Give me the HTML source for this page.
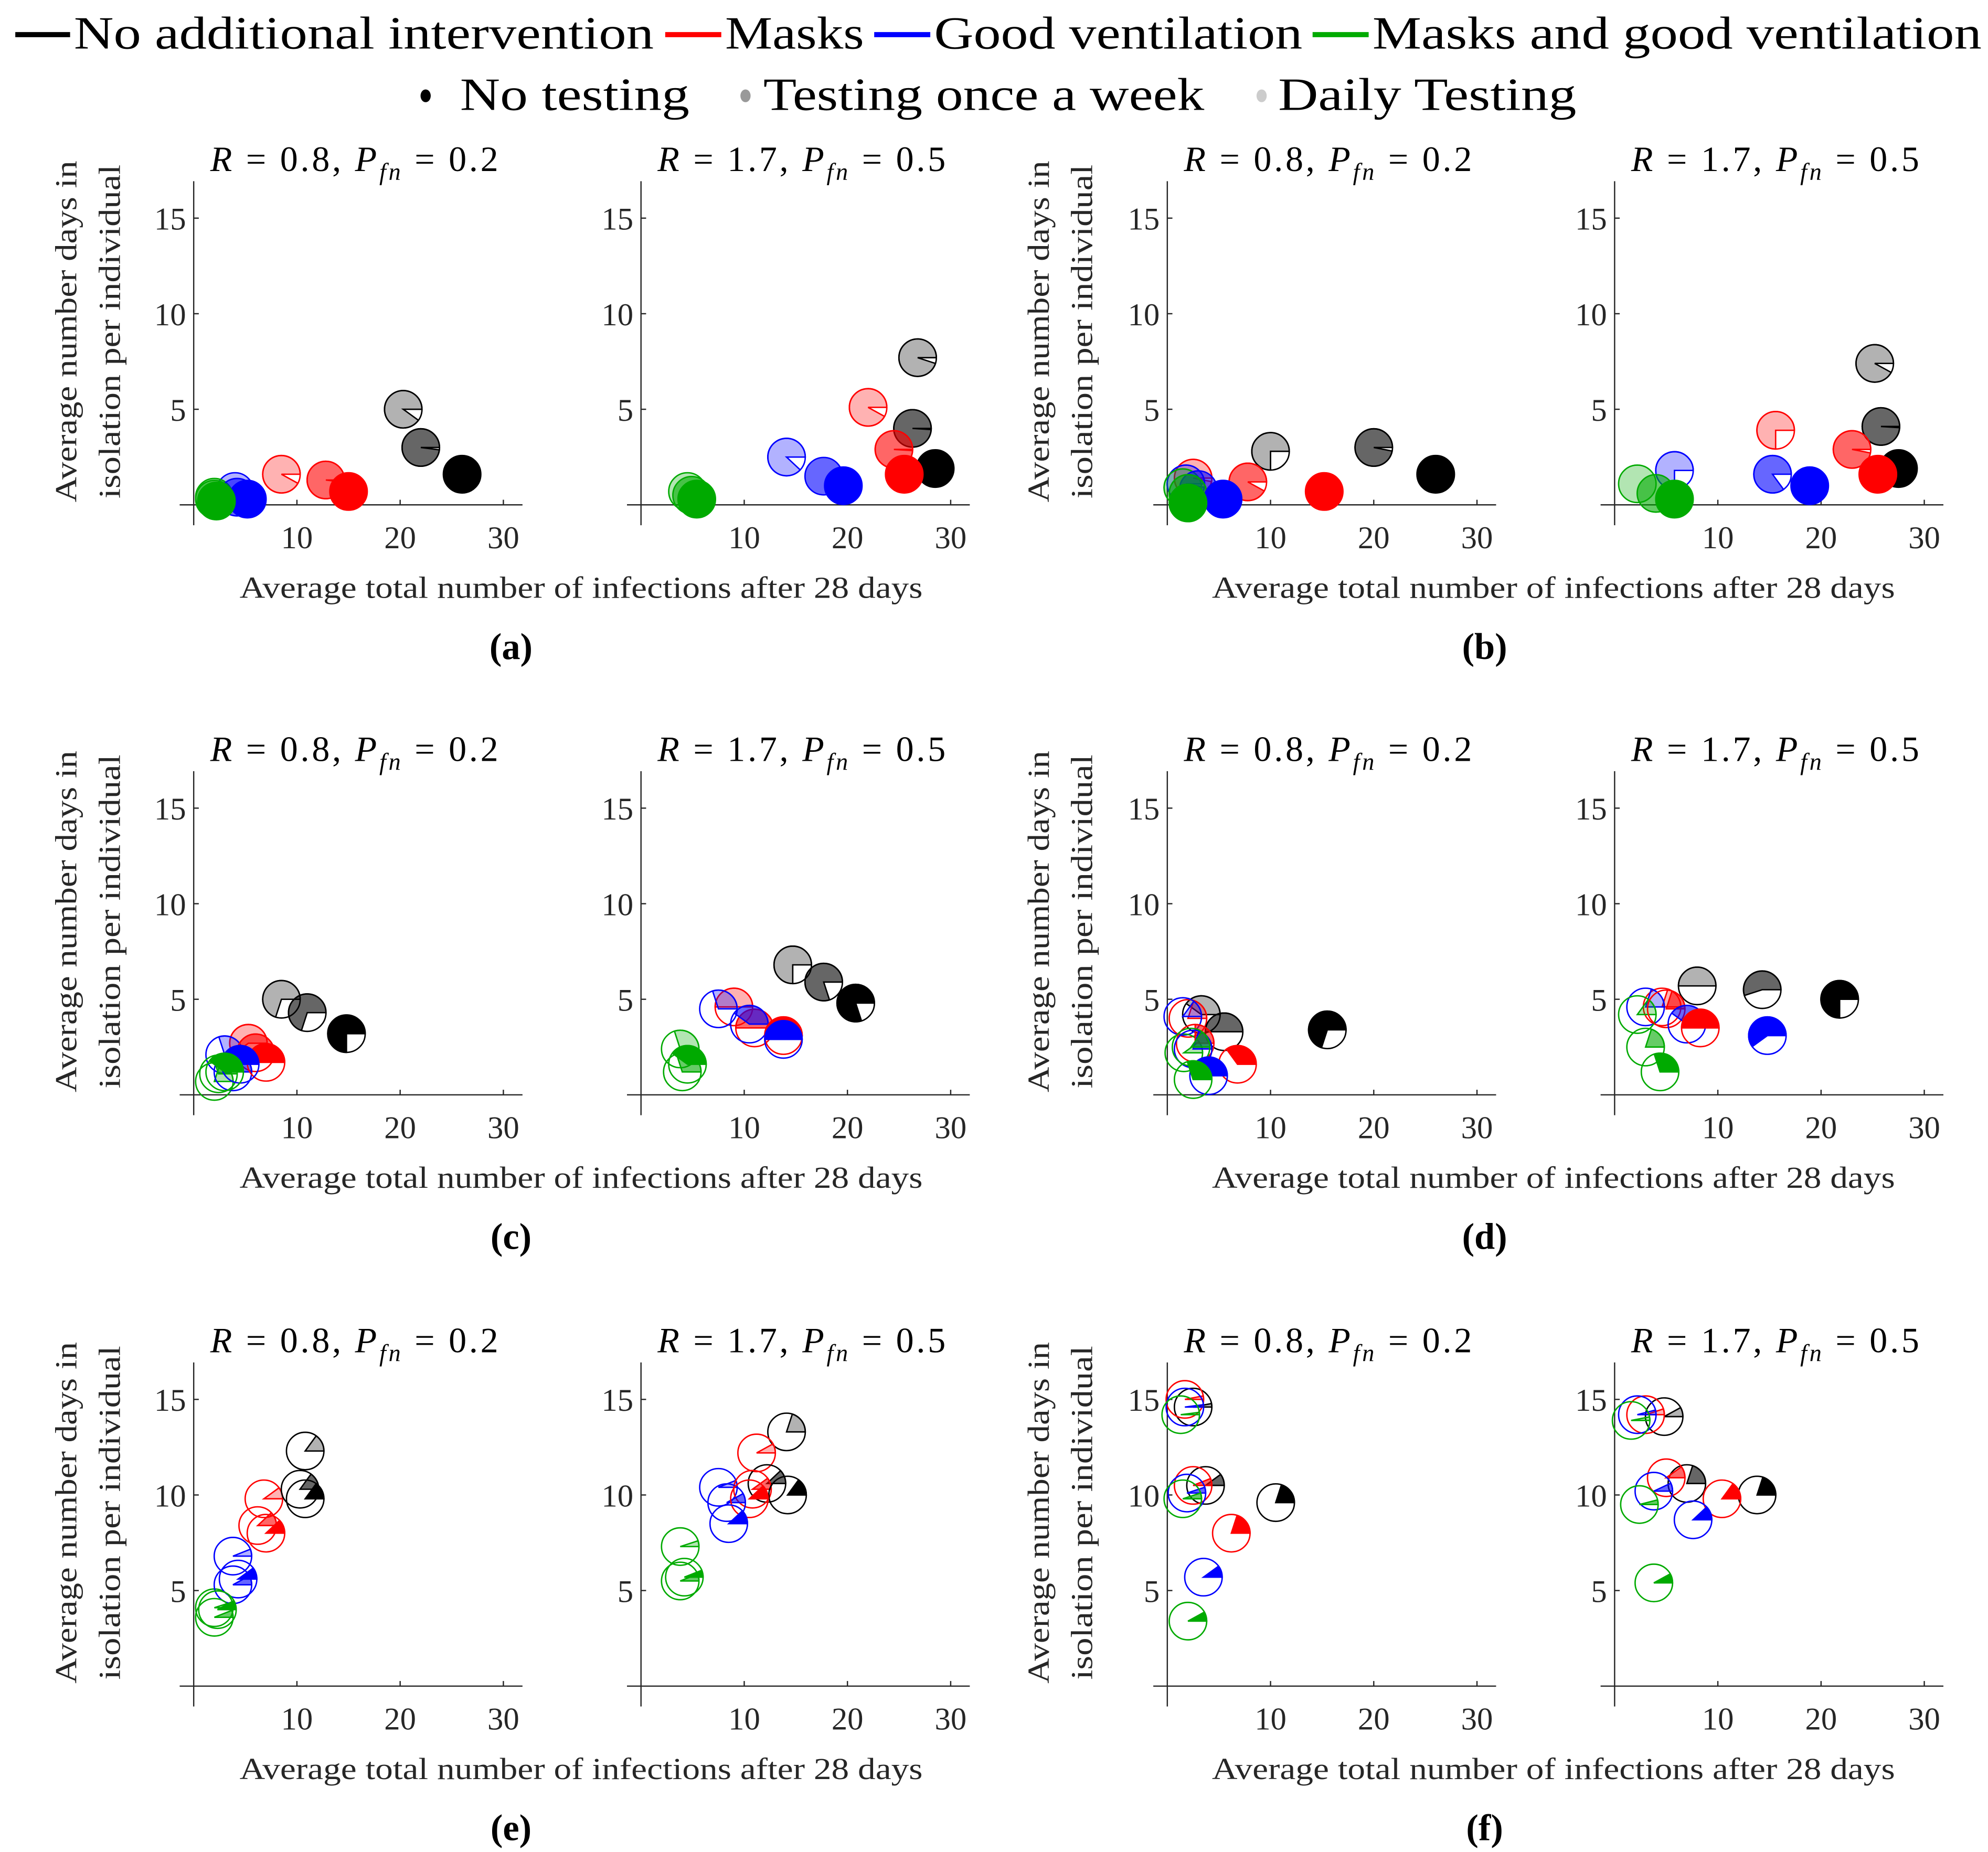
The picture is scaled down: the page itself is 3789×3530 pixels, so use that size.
<!DOCTYPE html>
<html><head><meta charset="utf-8"><style>
html,body{margin:0;padding:0;background:#fff}
svg{display:block}
text,tspan{font-family:"Liberation Serif",serif}
</style></head><body>
<svg id="fig" xmlns="http://www.w3.org/2000/svg" width="3789" height="3530" viewBox="0 0 1560 1453" font-family="Liberation Serif, serif">
<g>
 <line x1="12" y1="27" x2="55" y2="27" stroke="#000" stroke-width="4"/>
 <text x="58" y="38" font-size="36" textLength="455" lengthAdjust="spacingAndGlyphs">No additional intervention</text>
 <line x1="522" y1="27" x2="566" y2="27" stroke="#f00" stroke-width="4"/>
 <text x="569" y="38" font-size="36" textLength="109" lengthAdjust="spacingAndGlyphs">Masks</text>
 <line x1="686" y1="27" x2="730" y2="27" stroke="#00f" stroke-width="4"/>
 <text x="733" y="38" font-size="36" textLength="289" lengthAdjust="spacingAndGlyphs">Good ventilation</text>
 <line x1="1030" y1="27" x2="1074" y2="27" stroke="#00aa00" stroke-width="4"/>
 <text x="1077" y="38" font-size="36" textLength="478" lengthAdjust="spacingAndGlyphs">Masks and good ventilation</text>
 <ellipse cx="334" cy="75" rx="4" ry="5" fill="#000"/>
 <text x="361" y="86" font-size="36" textLength="180" lengthAdjust="spacingAndGlyphs">No testing</text>
 <ellipse cx="585" cy="75" rx="4" ry="5" fill="#999"/>
 <text x="599" y="86" font-size="36" textLength="346" lengthAdjust="spacingAndGlyphs">Testing once a week</text>
 <ellipse cx="990" cy="75" rx="4" ry="5" fill="#ccc"/>
 <text x="1003" y="86" font-size="36" textLength="234" lengthAdjust="spacingAndGlyphs">Daily Testing</text>
</g>
<g id="panels"></g>
</svg>
<script>
// order per panel: black(none,weekly,daily), red(...), blue(...), green(...)
const panelX = [
 [26,22,20.3, 15,12.8,8.5, 5.2,4.2,4, 2.2,2,2],
 [28.5,26.3,26.8, 25.5,24.5,22, 19.6,17.7,14.1, 5.4,4.9,4.5],
 [26,20,10, 15.2,7.8,2.5, 5.4,3,1.8, 2,2,1.5],
 [27.5,25.8,25.2, 25.5,23,15.6, 18.9,15.3,5.8, 5.8,4,2.2],
 [14.8,11,8.5, 7,6,5.3, 4.5,3.8,3, 3,2.4,2],
 [20.8,17.7,14.7, 13.8,11,9, 13.8,10.5,7.5, 4.5,4,3.8],
 [15.5,5.5,3.3, 6.8,2.7,2, 4,2.5,1.5, 2.5,2.3,1.6],
 [21.8,14.3,8, 8.3,5,4.6, 14.8,7,3, 4.4,3,2.2],
 [10.8,10.3,10.8, 7,6.2,6.8, 4.3,3.8,3.8, 2.3,2,2],
 [14.2,12.2,14.1, 10.5,10.8,11.2, 8.5,8.3,7.5, 4.2,3.8,3.8],
 [10.5,3.7,2.5, 6.2,2.5,1.7, 3.5,1.9,1.7, 2,1.5,1.3],
 [13.8,7,4.8, 10.4,5,3, 7.6,3.8,2.2, 3.8,2.4,1.6]
];
const panelY = [
 [1.6,3,5, 0.7,1.3,1.6, 0.3,0.4,0.7, 0.2,0.3,0.4],
 [1.9,4,7.7, 1.6,2.9,5.1, 1,1.5,2.5, 0.3,0.5,0.7],
 [1.6,3,2.8, 0.7,1.2,1.4, 0.3,0.8,1.1, 0.1,0.6,0.9],
 [1.9,4.1,7.4, 1.6,2.9,3.9, 1,1.6,1.8, 0.3,0.6,1.1],
 [3.2,4.3,5, 1.7,2.2,2.7, 1.6,1.2,2.1, 1.2,1.1,0.7],
 [4.8,5.9,6.8, 3.1,3.5,4.6, 2.9,3.7,4.5, 1.6,1.2,2.4],
 [3.4,3.3,4.2, 1.6,2.7,4, 1,2.4,4.1, 0.8,2.5,2.2],
 [5,5.5,5.7, 3.5,4.5,4.6, 3.1,3.7,4.6, 1.2,2.5,4.2],
 [9.8,10.3,12.3, 8,8.4,9.8, 5.6,5.3,6.8, 4,3.6,4.1],
 [10,10.6,13.3, 9.8,10.3,12.2, 8.5,9.6,10.4, 5.7,5.5,7.3],
 [9.6,10.5,14.6, 8,10.5,15, 5.7,10.1,14.6, 3.4,9.8,14.2],
 [10,10.6,14.1, 9.8,10.9,14.2, 8.7,10.2,14.2, 5.4,9.5,13.9]
];
const panelF = [
 [1,0.98,0.9, 1,0.98,0.92, 1,1,1, 1,1,1],
 [1,0.99,0.95, 1,0.99,0.92, 1,1,0.88, 1,1,1],
 [1,0.97,0.75, 1,0.92,0.97, 1,1,0.97, 1,0.97,0.97],
 [1,0.99,0.92, 1,0.97,0.75, 1,0.85,0.75, 1,1,1],
 [0.75,0.7,0.7, 0.5,0.5,0.6, 0.4,0.4,0.3, 0.4,0.3,0.2],
 [0.8,0.8,0.75, 0.5,0.5,0.5, 0.5,0.4,0.3, 0.4,0.3,0.3],
 [0.7,0.5,0.4, 0.35,0.25,0.2, 0.35,0.2,0.15, 0.3,0.15,0.1],
 [0.75,0.55,0.5, 0.5,0.2,0.2, 0.6,0.4,0.2, 0.3,0.2,0.15],
 [0.15,0.15,0.15, 0.12,0.12,0.1, 0.1,0.08,0.06, 0.08,0.06,0.05],
 [0.15,0.12,0.2, 0.12,0.1,0.08, 0.12,0.08,0.06, 0.06,0.06,0.05],
 [0.2,0.1,0.03, 0.2,0.06,0.03, 0.1,0.05,0.02, 0.08,0.05,0.02],
 [0.2,0.2,0.08, 0.15,0.1,0.05, 0.12,0.07,0.04, 0.08,0.04,0.03]
];
const interventions = ['none','masks','ventilation','both'];
const testings = ['no-testing','weekly','daily'];
const colors = ['#000000','#ff0000','#0000ff','#00aa00'];
const alphas = [1,0.6,0.3];
const xTicks = [10,20,30];
const yTicks = [5,10,15];
const titles = [['0.8','0.2'],['1.7','0.5']];
const letters = ['(a)','(b)','(c)','(d)','(e)','(f)'];

const NS='http://www.w3.org/2000/svg';
const root=document.getElementById('panels');
const colX=[152,503,916,1267], rowY=[396,859,1323];
const SX=8.1, SY=15, R=14.7;
function mk(tag,attrs,parent){const e=document.createElementNS(NS,tag);for(const k in attrs)e.setAttribute(k,attrs[k]);if(tag==='text')e.setAttribute('font-family','Liberation Serif, serif');(parent||root).appendChild(e);return e;}

for(let r=0;r<3;r++){
 for(let c=0;c<4;c++){
  const p=r*4+c, x0=colX[c], y0=rowY[r];
  const xs=v=>x0+v*SX, ys=v=>y0-v*SY;
  const g=mk('g',{});
  
  
  const ax=mk('g',{},g);
  
  
  mk('line',{x1:x0,y1:y0-254,x2:x0,y2:y0+16,stroke:'#262626','stroke-width':1},ax);
  mk('line',{x1:x0-11,y1:y0,x2:x0+258,y2:y0,stroke:'#262626','stroke-width':1},ax);
  xTicks.forEach(t=>{
   mk('line',{x1:xs(t),y1:y0,x2:xs(t),y2:y0-4,stroke:'#262626','stroke-width':1},ax);
   const tl=mk('text',{x:xs(t),y:y0+34,'font-size':25,'text-anchor':'middle',fill:'#262626'},ax);
   
   
   tl.textContent=t;
  });
  yTicks.forEach(t=>{
   mk('line',{x1:x0,y1:ys(t),x2:x0+4,y2:ys(t),stroke:'#262626','stroke-width':1},ax);
   const tl=mk('text',{x:x0-6,y:ys(t)+9,'font-size':25,'text-anchor':'end',fill:'#262626'},ax);
   
   
   tl.textContent=t;
  });
  const tt=titles[c%2];
  const ti=mk('text',{x:x0+13,y:y0-262,'font-size':28,textLength:226,lengthAdjust:'spacing'},g);
  
  
  ti.innerHTML='<tspan font-style="italic">R</tspan> = '+tt[0]+', <tspan font-style="italic">P</tspan><tspan font-style="italic" font-size="19" dy="7">fn</tspan><tspan dy="-7"> = '+tt[1]+'</tspan>';
  for(let t=2;t>=0;t--){
   for(let i=0;i<4;i++){
    const k=i*3+t;
    const cx=xs(panelX[p][k]), cy=ys(panelY[p][k]), f=panelF[p][k];
    const m=mk('g',{},g);
    
    
    if(f>=0.999){
     mk('circle',{cx:cx,cy:cy,r:R,fill:colors[i],'fill-opacity':alphas[t],stroke:colors[i],'stroke-width':1.1},m);
    } else {
     const a=f*2*Math.PI;
     const ex=cx+R*Math.cos(a), ey=cy-R*Math.sin(a);
     const large=f>0.5?1:0;
     mk('path',{d:`M${cx},${cy} L${cx+R},${cy} A${R},${R} 0 ${large} 0 ${ex},${ey} Z`,fill:colors[i],'fill-opacity':alphas[t],stroke:colors[i],'stroke-width':1.1},m);
     mk('circle',{cx:cx,cy:cy,r:R,fill:'none',stroke:colors[i],'stroke-width':1.1},m);
    }
   }
  }
 }
 for(let h=0;h<2;h++){
  const y0=rowY[r], cx=h?1219:456, yl=h?815:52;
  const xl=mk('text',{x:cx,y:y0+73,'font-size':24,'text-anchor':'middle',fill:'#262626',textLength:536,lengthAdjust:'spacingAndGlyphs'});
  
  
  xl.textContent='Average total number of infections after 28 days';
  const yg=mk('text',{transform:`translate(${yl+8},${y0-136}) rotate(-90)`,'font-size':24,'text-anchor':'middle',fill:'#262626'});
  
  
  yg.innerHTML='<tspan x="0" dy="0" textLength="268" lengthAdjust="spacingAndGlyphs">Average number days in</tspan><tspan x="0" dy="34" textLength="262" lengthAdjust="spacingAndGlyphs">isolation per individual</tspan>';
  const lb=mk('text',{x:h?1165:401,y:y0+121,'font-size':29,'font-weight':'bold','text-anchor':'middle'});
  
  
  lb.textContent=letters[r*2+h];
 }
}
</script>
</body></html>
